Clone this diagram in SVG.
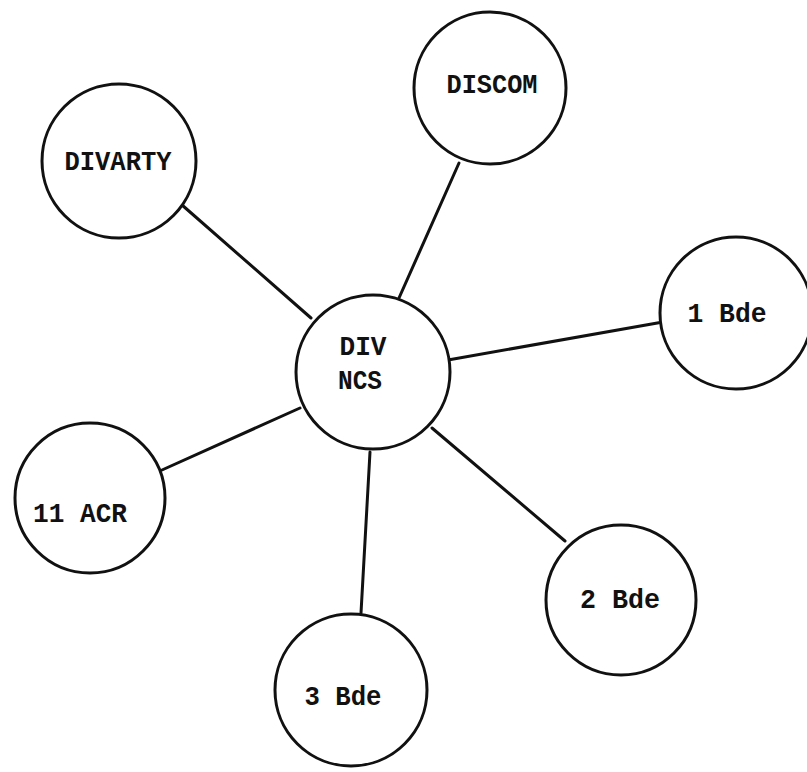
<svg xmlns="http://www.w3.org/2000/svg" width="807" height="772" viewBox="0 0 807 772">
<style>
.n{fill:#fff;stroke:#111;stroke-width:3}
.c line{stroke:#111;stroke-width:3;stroke-linecap:round}
text{font-family:"Liberation Mono","DejaVu Sans Mono",monospace;font-weight:bold;font-size:27px;fill:#111;text-anchor:middle}
</style>
<rect width="807" height="772" fill="#fff"/>
<g id="connectors" class="c">
<line x1="459" y1="163" x2="399" y2="298"/>
<line x1="182" y1="205" x2="311" y2="318"/>
<line x1="448" y1="360" x2="663" y2="322"/>
<line x1="162" y1="470" x2="300" y2="408"/>
<line x1="432" y1="428" x2="565" y2="541"/>
<line x1="370" y1="452" x2="361" y2="613"/>
</g>
<g id="discom"><circle class="n" cx="490" cy="88" r="76"/><text x="492" y="93" textLength="91" lengthAdjust="spacingAndGlyphs">DISCOM</text></g>
<g id="divarty"><circle class="n" cx="119" cy="161" r="77"/><text x="118" y="170" textLength="107" lengthAdjust="spacingAndGlyphs">DIVARTY</text></g>
<g id="divncs"><circle class="n" cx="373" cy="372" r="77"/><text x="363" y="355" textLength="47" lengthAdjust="spacingAndGlyphs">DIV</text><text x="360" y="389" textLength="44" lengthAdjust="spacingAndGlyphs">NCS</text></g>
<g id="bde1"><circle class="n" cx="736" cy="313" r="76"/><text x="727" y="322" textLength="79" lengthAdjust="spacingAndGlyphs">1 Bde</text></g>
<g id="acr11"><circle class="n" cx="90" cy="498" r="75"/><text x="80" y="522" textLength="94" lengthAdjust="spacingAndGlyphs">11 ACR</text></g>
<g id="bde2"><circle class="n" cx="621" cy="600" r="75"/><text x="620" y="608" textLength="80" lengthAdjust="spacingAndGlyphs">2 Bde</text></g>
<g id="bde3"><circle class="n" cx="351" cy="690" r="76"/><text x="343" y="705" textLength="77" lengthAdjust="spacingAndGlyphs">3 Bde</text></g>
</svg>
